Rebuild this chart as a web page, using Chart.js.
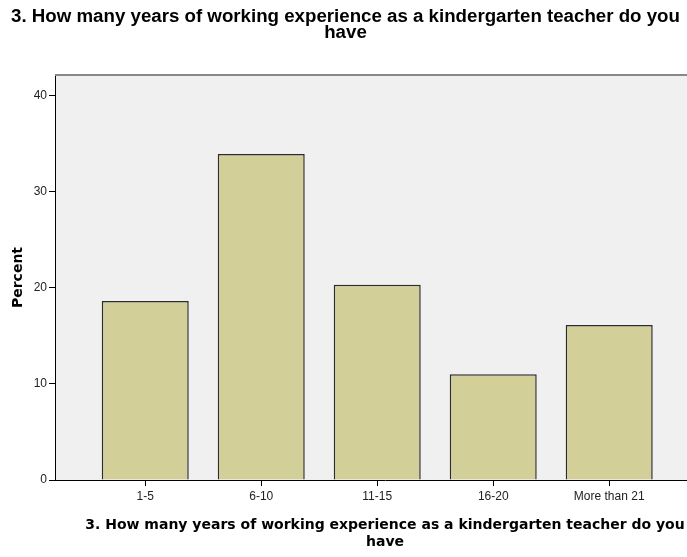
<!DOCTYPE html>
<html>
<head>
<meta charset="utf-8">
<script src="https://cdn.jsdelivr.net/npm/chart.js@4/dist/chart.umd.min.js"></script>
<style>
  html, body { margin: 0; padding: 0; background: #fff; overflow: hidden; }
  #wrap { width: 687px; height: 557px; overflow: hidden; }
</style>
</head>
<body>
<div id="wrap"><canvas id="expChart" width="715" height="557"></canvas></div>
<script>
const titleLines = ['3. How many years of working experience as a kindergarten teacher do you', 'have'];
const categories = ['1-5', '6-10', '11-15', '16-20', 'More than 21'];
const percentValues = [18.6, 33.9, 20.3, 11.0, 16.1];
const yTicks = [0, 10, 20, 30, 40];
const yLabel = 'Percent';

// the plot runs on past the visible right edge, so the chart title is centred on the visible part
const visibleWidth = 687;

// plot background, grey top frame line and the chart title
const plotFrame = {
  id: 'plotFrame',
  beforeDraw(chart) {
    const { ctx, chartArea: a } = chart;
    ctx.save();
    ctx.fillStyle = '#f0f0f0';
    ctx.fillRect(a.left, a.top, a.right - a.left, a.bottom - a.top);
    ctx.restore();
  },
  afterDraw(chart) {
    const { ctx, chartArea: a } = chart;
    ctx.save();
    ctx.strokeStyle = '#888';
    ctx.lineWidth = 2;
    ctx.beginPath();
    ctx.moveTo(a.left, a.top);
    ctx.lineTo(a.right, a.top);
    ctx.stroke();

    ctx.fillStyle = '#000';
    ctx.font = 'bold 18.7px "Liberation Sans", Arial, sans-serif';
    ctx.textAlign = 'center';
    ctx.textBaseline = 'middle';
    titleLines.forEach((line, i) => {
      ctx.fillText(line, visibleWidth / 2 + 2, 17 + i * 16);
    });
    ctx.restore();
  }
};

new Chart(document.querySelector('#expChart'), {
  type: 'bar',
  data: {
    datasets: [{
      label: yLabel,
      data: percentValues.map((v, i) => ({ x: i, y: v })),
      backgroundColor: '#d3cf98',
      borderColor: '#2b2b2b',
      borderWidth: 1.5,
      borderSkipped: 'bottom',
      barPercentage: 0.75,
      categoryPercentage: 1
    }]
  },
  options: {
    responsive: false,
    animation: false,
    layout: { padding: { top: 75, right: 0, bottom: 0, left: 0 } },
    plugins: {
      legend: { display: false },
      tooltip: { enabled: false }
    },
    scales: {
      x: {
        type: 'linear',
        offset: false,
        min: -0.778,
        max: 4.912,
        afterBuildTicks(scale) {
          scale.ticks = categories.map((c, i) => ({ value: i }));
        },
        afterFit(scale) { scale.height = 77; },
        grid: { drawOnChartArea: false, offset: false, tickLength: 6, color: '#000' },
        border: { display: true, color: '#000', width: 1 },
        ticks: {
          padding: 3,
          color: '#222',
          font: { family: '"Liberation Sans", Arial, sans-serif', size: 12 },
          callback: (v) => categories[v]
        },
        title: {
          display: true,
          text: titleLines,
          color: '#000',
          font: { family: '"DejaVu Sans", Verdana, sans-serif', size: 14, weight: 'bold', lineHeight: 1.15 },
          padding: { top: 0, bottom: 7 }
        }
      },
      y: {
        min: 0,
        max: 42.1,
        afterBuildTicks(scale) {
          scale.ticks = yTicks.map(v => ({ value: v }));
        },
        afterFit(scale) { scale.width = 55; },
        grid: { drawOnChartArea: false, tickLength: 6, color: '#000' },
        border: { display: true, color: '#000', width: 1 },
        ticks: {
          padding: 2,
          color: '#222',
          font: { family: '"Liberation Sans", Arial, sans-serif', size: 12 }
        },
        title: {
          display: true,
          text: yLabel,
          color: '#000',
          font: { family: '"DejaVu Sans", Verdana, sans-serif', size: 14, weight: 'bold' },
          padding: { top: 10, bottom: 0 }
        }
      }
    }
  },
  plugins: [plotFrame]
});
</script>
</body>
</html>
